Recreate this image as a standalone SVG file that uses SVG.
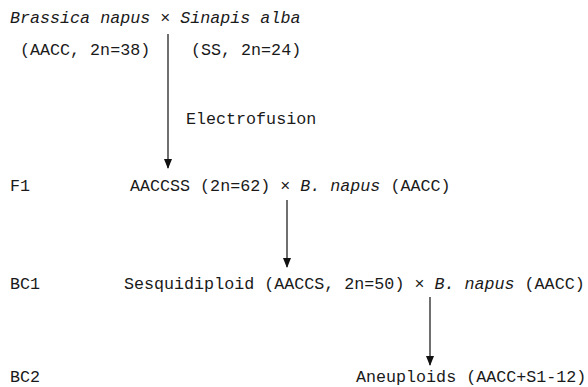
<svg xmlns="http://www.w3.org/2000/svg" width="588" height="387" viewBox="0 0 588 387">
<style>
text{font-family:"Liberation Mono","Courier New",monospace;font-size:16.7px;fill:#1a1a1a}
.i{font-style:italic}
.c{stroke:#222;stroke-width:1.3;fill:none}
</style>
<defs>
<marker id="a" markerWidth="10" markerHeight="10" refX="9" refY="5" orient="auto" markerUnits="userSpaceOnUse" viewBox="0 0 10 10">
<path d="M0,1 L10,5 L0,9 Z" fill="#111"/>
</marker>
</defs>
<g id="parents">
<text x="10" y="23"><tspan class="i">Brassica napus</tspan> × <tspan class="i">Sinapis alba</tspan></text>
<text x="20" y="55">(AACC, 2n=38)</text>
<text x="191" y="55">(SS, 2n=24)</text>
</g>
<g id="electrofusion"><text x="186" y="124">Electrofusion</text></g>
<g id="f1">
<text x="10" y="191">F1</text>
<text x="130" y="191">AACCSS (2n=62) × <tspan class="i">B. napus</tspan> (AACC)</text>
</g>
<g id="bc1">
<text x="10" y="289">BC1</text>
<text x="124" y="289">Sesquidiploid (AACCS, 2n=50) × <tspan class="i">B. napus</tspan> (AACC)</text>
</g>
<g id="bc2">
<text x="10" y="382">BC2</text>
<text x="356" y="382">Aneuploids (AACC+S1-12)</text>
</g>
<g id="connectors">
<line class="c" x1="168" y1="34" x2="168" y2="168" marker-end="url(#a)"/>
<line class="c" x1="287" y1="200" x2="287" y2="267" marker-end="url(#a)"/>
<line class="c" x1="430" y1="297" x2="430" y2="365" marker-end="url(#a)"/>
</g>
</svg>
